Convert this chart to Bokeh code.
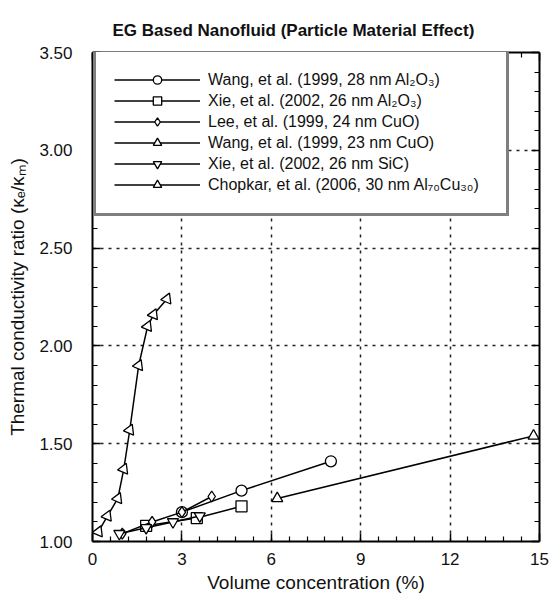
from bokeh.plotting import figure
from bokeh.models import (FixedTicker, PrintfTickFormatter, Legend, LegendItem,
                          LinearAxis, Title, Range1d, CustomJSTickFormatter)
from bokeh.embed import file_html
from bokeh.resources import INLINE

# Thermal conductivity ratio of EG-based nanofluids vs. volume concentration
wang_al2o3_x = [3.0, 5.0, 8.0]
wang_al2o3_y = [1.15, 1.26, 1.41]

xie_al2o3_x = [1.8, 3.5, 5.0]
xie_al2o3_y = [1.08, 1.12, 1.18]

lee_cuo_x = [1.0, 2.0, 3.0, 4.0]
lee_cuo_y = [1.04, 1.10, 1.15, 1.23]

wang_cuo_x = [6.2, 14.8]
wang_cuo_y = [1.22, 1.54]

xie_sic_x = [0.9, 1.8, 2.7, 3.6]
xie_sic_y = [1.04, 1.07, 1.10, 1.13]

chopkar_x = [0.2, 0.5, 0.85, 1.05, 1.25, 1.55, 1.85, 2.05, 2.5]
chopkar_y = [1.05, 1.13, 1.22, 1.37, 1.57, 1.90, 2.10, 2.16, 2.24]

labels = [
    "Wang, et al. (1999, 28 nm Al\u2082O\u2083)",
    "Xie, et al. (2002, 26 nm Al\u2082O\u2083)",
    "Lee, et al. (1999, 24 nm CuO)",
    "Wang, et al. (1999, 23 nm CuO)",
    "Xie, et al. (2002, 26 nm SiC)",
    "Chopkar, et al. (2006, 30 nm Al\u2087\u2080Cu\u2083\u2080)",
]

x_ticks = [0, 3, 6, 9, 12, 15]
y_ticks = [1.0, 1.5, 2.0, 2.5, 3.0, 3.5]

FONT = "Liberation Sans"

p = figure(width=549, height=595, output_backend="svg", toolbar_location=None,
           x_range=Range1d(0, 15), y_range=Range1d(1.0, 3.5),
           min_border_left=92, min_border_right=10, min_border_top=52,
           min_border_bottom=53)
p.outline_line_color = None
p.background_fill_color = "white"

bottom = p.xaxis[0]
left = p.yaxis[0]

# ticks: major every 3 % / 0.5, minor every 0.6 % / 0.1
x_minor = [round(0.6 * i, 2) for i in range(26) if i % 5 != 0]
y_minor = [round(1.0 + 0.1 * i, 2) for i in range(26) if i % 5 != 0]
xt = FixedTicker(ticks=x_ticks, minor_ticks=x_minor)
yt = FixedTicker(ticks=y_ticks, minor_ticks=y_minor)

bottom.ticker = xt
left.ticker = yt
left.formatter = PrintfTickFormatter(format="%.2f")

blank = CustomJSTickFormatter(code="return ''")
top = LinearAxis(ticker=xt, formatter=blank, major_label_standoff=6)
right = LinearAxis(ticker=yt, formatter=blank, major_label_standoff=0)
p.add_layout(top, "above")
p.add_layout(right, "right")

for ax in [bottom, left, top, right]:
    ax.axis_line_color = "black"
    ax.axis_line_width = 2
    ax.major_tick_in = 8
    ax.major_tick_out = 0
    ax.minor_tick_in = 5
    ax.minor_tick_out = 0
    ax.major_tick_line_color = "black"
    ax.major_tick_line_width = 1.5
    ax.minor_tick_line_color = "black"
    ax.minor_tick_line_width = 1.2
    ax.major_label_text_font = FONT
    ax.major_label_text_color = "#111"

bottom.major_label_text_font_size = "17px"
left.major_label_text_font_size = "17px"
bottom.major_label_standoff = 11
left.major_label_standoff = 20

bottom.axis_label = "Volume concentration (%)"
left.axis_label = "Thermal conductivity ratio (\u03baₑ/\u03baₘ)"
for ax in [bottom, left]:
    ax.axis_label_text_font = FONT
    ax.axis_label_text_font_size = "19px"
    ax.axis_label_text_font_style = "normal"
    ax.axis_label_text_color = "#111"
bottom.axis_label_standoff = 4
left.axis_label_standoff = 8

# dashed grid at the inner major ticks
p.xgrid.ticker = FixedTicker(ticks=[3, 6, 9, 12])
p.ygrid.ticker = FixedTicker(ticks=[1.5, 2.0, 2.5, 3.0])
for g in [p.xgrid, p.ygrid]:
    g.grid_line_color = "#222"
    g.grid_line_width = 1.5
    g.grid_line_dash = "3 5"

p.add_layout(Title(text="EG Based Nanofluid (Particle Material Effect)",
                   align="left", offset=20, standoff=26, text_font=FONT,
                   text_font_size="17px", text_font_style="bold",
                   text_color="#111"), "above")

series = [
    (wang_al2o3_x, wang_al2o3_y, "circle", 0.0),
    (xie_al2o3_x, xie_al2o3_y, "square", 0.0),
    (lee_cuo_x, lee_cuo_y, "diamond", 0.0),
    (wang_cuo_x, wang_cuo_y, "triangle", 0.0),
    (xie_sic_x, xie_sic_y, "inverted_triangle", 0.0),
    (chopkar_x, chopkar_y, "triangle", -0.4),
]

items = []
for (xs, ys, marker, ang), lab in zip(series, labels):
    ln = p.line(xs, ys, line_color="black", line_width=1.5)
    sc = p.scatter(xs, ys, marker=marker, size=11, angle=ang,
                   fill_color="white", line_color="black", line_width=1.3)
    items.append(LegendItem(label=lab, renderers=[ln, sc]))

legend = Legend(items=items, location=(1, 325), orientation="vertical",
                border_line_color="black", border_line_width=3,
                background_fill_color="white", background_fill_alpha=1.0,
                padding=18, margin=0, spacing=0,
                glyph_width=86, glyph_height=21,
                label_height=21, label_width=280, label_standoff=8,
                label_text_font=FONT, label_text_font_size="16px",
                label_text_color="#111")
p.add_layout(legend, "center")

open("out.html", "w").write(file_html(p, INLINE))
